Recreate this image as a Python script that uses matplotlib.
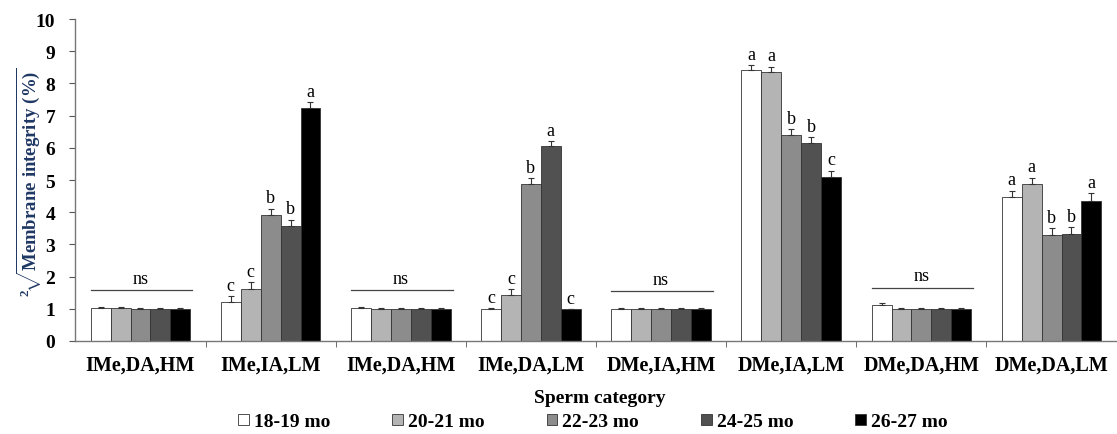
import matplotlib
matplotlib.use("Agg")
import matplotlib.pyplot as plt
import numpy as np

# membrane integrity (sqrt transformed) per sperm category and age group
categories = ["IMe,DA,HM", "IMe,IA,LM", "IMe,DA,HM", "IMe,DA,LM",
              "DMe,IA,HM", "DMe,IA,LM", "DMe,DA,HM", "DMe,DA,LM"]
ages = ["18-19 mo", "20-21 mo", "22-23 mo", "24-25 mo", "26-27 mo"]

m_18 = [1.03, 1.21, 1.03, 1.00, 1.00, 8.42, 1.13, 4.46]
m_20 = [1.04, 1.63, 1.00, 1.44, 1.00, 8.36, 1.00, 4.87]
m_22 = [1.00, 3.90, 1.00, 4.89, 1.00, 6.40, 1.00, 3.28]
m_24 = [1.00, 3.57, 1.00, 6.05, 1.00, 6.16, 1.00, 3.33]
m_26 = [1.00, 7.23, 1.00, 0.98, 1.00, 5.11, 1.00, 4.36]

e_18 = [0.02, 0.18, 0.02, 0.02, 0.01, 0.14, 0.04, 0.20]
e_20 = [0.02, 0.20, 0.01, 0.16, 0.01, 0.16, 0.01, 0.20]
e_22 = [0.01, 0.20, 0.01, 0.17, 0.01, 0.18, 0.01, 0.22]
e_24 = [0.01, 0.19, 0.01, 0.15, 0.01, 0.17, 0.01, 0.20]
e_26 = [0.01, 0.19, 0.01, 0.01, 0.01, 0.18, 0.01, 0.23]

letters = [
    None,
    ["c", "c", "b", "b", "a"],
    None,
    ["c", "c", "b", "a", "c"],
    None,
    ["a", "a", "b", "b", "c"],
    None,
    ["a", "a", "b", "b", "a"],
]
ns_level = [1.58, None, 1.58, None, 1.56, None, 1.66, None]

means = [m_18, m_20, m_22, m_24, m_26]
errs = [e_18, e_20, e_22, e_24, e_26]
colors = ["white", "#b4b4b4", "#8c8c8c", "#515151", "black"]

plt.rcParams['font.family'] = ['Liberation Serif', 'DejaVu Serif']
plt.rcParams['mathtext.fontset'] = 'custom'
plt.rcParams['mathtext.rm'] = 'Liberation Serif:bold'
plt.rcParams['mathtext.it'] = 'Liberation Serif:bold'
plt.rcParams['mathtext.bf'] = 'Liberation Serif:bold'

fig = plt.figure(figsize=(11.17, 4.35), dpi=100)
ax = fig.add_axes([0.0675, 0.2138, 0.938, 0.740])

x = np.arange(len(categories))
w = 0.153
for k in range(5):
    pos = x + (k - 2) * w
    ax.bar(pos, means[k], w, color=colors[k], edgecolor="#333333",
           linewidth=0.8, label=ages[k], zorder=2)
    ax.errorbar(pos, means[k], yerr=[np.zeros(len(x)), errs[k]], fmt="none",
                ecolor="#333333", elinewidth=0.8, capsize=2.5, capthick=0.8,
                zorder=3)

for i in range(len(categories)):
    if letters[i] is not None:
        for k in range(5):
            top = means[k][i] + errs[k][i]
            ax.text(x[i] + (k - 2) * w, top + 0.08, letters[i][k],
                    ha="center", va="bottom", fontsize=13)
    if ns_level[i] is not None:
        ax.plot([x[i] - 2.5 * w, x[i] + 2.6 * w], [ns_level[i]] * 2,
                color="#444444", lw=0.9)
        ax.text(x[i], ns_level[i] + 0.1, "ns", ha="center", va="bottom",
                fontsize=13)

ax.set_xlim(-0.5, len(categories) - 0.45)
ax.set_ylim(0, 10)
ax.set_yticks(range(0, 11))
ax.set_yticklabels([str(v) for v in range(0, 11)], fontweight="bold",
                   fontsize=14)
ax.set_xticks(x)
ax.set_xticklabels(categories, fontweight="bold", fontsize=14.5)
ax.tick_params(axis="x", length=0, pad=10)
ax.set_xticks(x[:-1] + 0.5, minor=True)
ax.tick_params(axis="x", which="minor", length=4, color="#555555")
ax.tick_params(axis="y", length=4.5, color="#555555", pad=10)

for s in ["top", "right"]:
    ax.spines[s].set_visible(False)
for s in ["left", "bottom"]:
    ax.spines[s].set_color("#777777")
    ax.spines[s].set_linewidth(1.0)

ax.set_xlabel("Sperm category", fontweight="bold", fontsize=14, labelpad=10)
fig.text(0.026, 0.582, r"$^{2}\!\sqrt{\mathrm{Membrane\ integrity\ (\%)}}$",
         rotation=90, ha="center", va="center", fontsize=13.5,
         color="#1f3864")

handles, labs = ax.get_legend_handles_labels()
for h in handles:
    for p in h.patches:
        p.set_linewidth(0.6)
fig.legend(handles, labs, loc="center left",
           bbox_to_anchor=(238 / 1117, 1 - 423 / 435), ncol=5,
           frameon=False, handlelength=0.55, handleheight=0.55,
           handletextpad=0.25, columnspacing=3.2, borderpad=0,
           borderaxespad=0, prop={"weight": "bold", "size": 14})

fig.savefig("out.png", dpi=100)
